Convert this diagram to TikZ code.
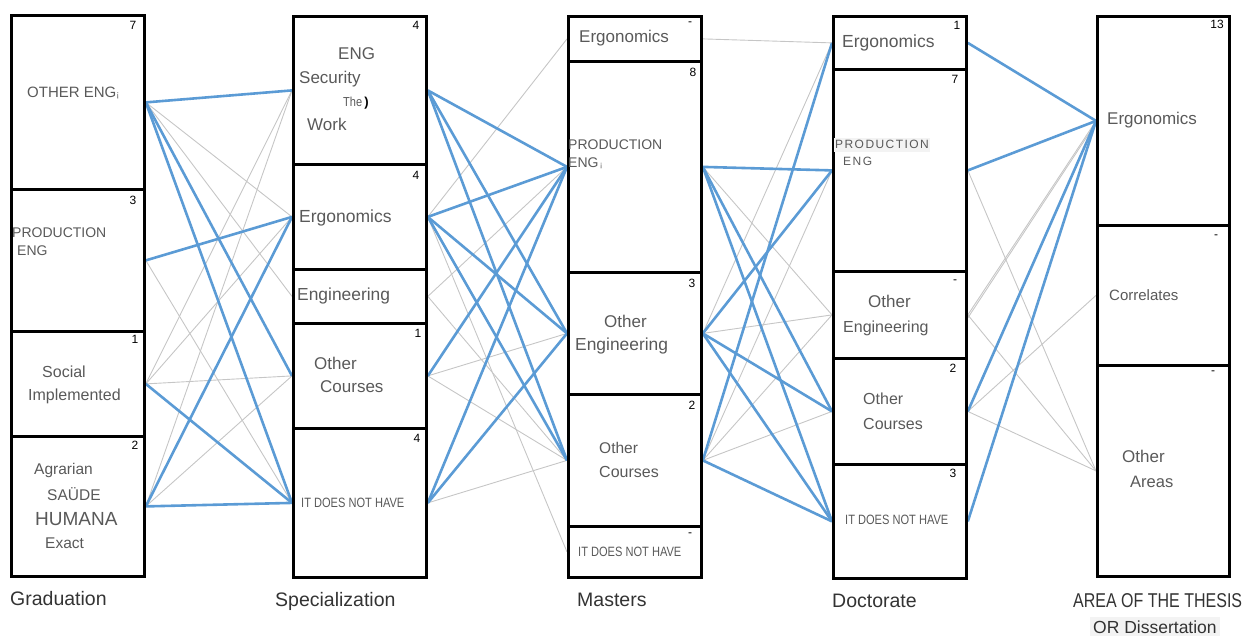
\documentclass[tikz,border=0pt]{standalone}
\usepackage{fontspec}
\setmainfont{Liberation Sans}
\newfontfamily\widefont[LetterSpace=12]{Liberation Sans}
\usetikzlibrary{backgrounds}

\definecolor{boxtext}{RGB}{89,89,89}
\definecolor{labeltext}{RGB}{51,51,51}
\definecolor{linkblue}{RGB}{91,155,213}
\definecolor{linkgray}{RGB}{198,198,198}
\definecolor{softhl}{RGB}{243,243,243}
\newcommand{\fs}[1]{\fontsize{#1}{#1}\selectfont}

\tikzset{
  level/.style={draw=black, line width=2.8pt, inner sep=0pt, anchor=north west, minimum width=133pt},
  txt/.style={anchor=base west, inner sep=0pt, text=boxtext},
  count/.style={anchor=center, inner sep=0pt, font=\fs{12}, text=black},
  caption/.style={anchor=base west, inner sep=0pt, text=labeltext, font=\fs{19.5}},
  strong/.style={draw=linkblue, line width=2.6pt},
  weak/.style={draw=linkgray, line width=0.9pt},
}

\begin{document}
\begin{tikzpicture}[x=1pt, y=-1pt]
\useasboundingbox (0,0) rectangle (1246,636);

% ---------- Graduation ----------
\node[level, minimum height=174pt] (g1) at (10,14) {};
\node[level, minimum height=142pt] (g2) at (10,188) {};
\node[level, minimum height=105pt] (g3) at (10,330) {};
\node[level, minimum height=140pt] (g4) at (10,435) {};
\node[count] (g1n) at (133,25) {7};
\node[count] (g2n) at (133,200) {3};
\node[count] (g3n) at (135,339) {1};
\node[count] (g4n) at (135,445) {2};
\node[txt, font=\fs{15}] (g1t) at (27,97.5) {OTHER ENG{\fs{9}¡}};
\node[txt, font=\fs{14}] (g2t) at (12,237.5) {PRODUCTION};
\node[txt, font=\fs{14}] (g2u) at (17,255) {ENG};
\node[txt, font=\fs{16}] (g3t) at (42,377) {Social};
\node[txt, font=\fs{16}] (g3u) at (28,400) {Implemented};
\node[txt, font=\fs{15.5}] (g4t) at (34,474) {Agrarian};
\node[txt, font=\fs{15.5}] (g4u) at (47,500) {SAÜDE};
\node[txt, font=\fs{19}] (g4v) at (35,525) {HUMANA};
\node[txt, font=\fs{15.5}] (g4w) at (45,548) {Exact};
\node[caption] (gcap) at (10,605) {Graduation};

% ---------- Specialization ----------
\node[level, minimum height=148pt] (s1) at (292,15) {};
\node[level, minimum height=105pt] (s2) at (292,163) {};
\node[level, minimum height=54pt]  (s3) at (292,268) {};
\node[level, minimum height=105pt] (s4) at (292,322) {};
\node[level, minimum height=149pt] (s5) at (292,427) {};
\node[count] (s1n) at (416,25) {4};
\node[count] (s2n) at (416,175) {4};
\node[count] (s4n) at (418,333) {1};
\node[count] (s5n) at (417,438) {4};
\node[txt, font=\fs{17}] (s1t) at (338,60) {ENG};
\node[txt, font=\fs{17}] (s1u) at (299,84) {Security};
\node[txt, font=\fs{13}] (s1v) at (343,107) {\scalebox{0.85}[1]{The}\,{\color{black}\bfseries )}};
\node[txt, font=\fs{17}] (s1w) at (307,130.5) {Work};
\node[txt, font=\fs{17.5}] (s2t) at (299,222.5) {Ergonomics};
\node[txt, font=\fs{17.4}] (s3t) at (297,300.5) {Engineering};
\node[txt, font=\fs{17}] (s4t) at (314,369) {Other};
\node[txt, font=\fs{17}] (s4u) at (320,392) {Courses};
\node[txt, font=\fs{13.5}] (s5t) at (301,507) {\scalebox{0.82}[1]{IT DOES NOT HAVE}};
\node[caption] (scap) at (275,606) {Specialization};

% ---------- Masters ----------
\node[level, minimum height=45pt]  (m1) at (567,15) {};
\node[level, minimum height=211pt] (m2) at (567,60) {};
\node[level, minimum height=122pt] (m3) at (567,271) {};
\node[level, minimum height=132pt] (m4) at (567,393) {};
\node[level, minimum height=51pt]  (m5) at (567,525) {};
\node[count] (m1n) at (690,24) {-};
\node[count] (m2n) at (693,72) {8};
\node[count] (m3n) at (692,283) {3};
\node[count] (m4n) at (692,405) {2};
\node[count] (m5n) at (690,535) {-};
\node[txt, font=\fs{17}] (m1t) at (579,42.5) {Ergonomics};
\node[txt, font=\fs{14}] (m2t) at (568,150) {PRODUCTION};
\node[txt, font=\fs{14}] (m2u) at (568,167.5) {ENG{\fs{8}\,¡}};
\node[txt, font=\fs{17}] (m3t) at (604,327) {Other};
\node[txt, font=\fs{17.4}] (m3u) at (575,350.5) {Engineering};
\node[txt, font=\fs{15.5}] (m4t) at (599,453) {Other};
\node[txt, font=\fs{16}] (m4u) at (599,477.5) {Courses};
\node[txt, font=\fs{13.5}] (m5t) at (578,556) {\scalebox{0.82}[1]{IT DOES NOT HAVE}};
\node[caption] (mcap) at (577,606) {Masters};

% ---------- Doctorate ----------
\node[level, minimum height=53pt]  (d1) at (832,15) {};
\node[level, minimum height=202pt] (d2) at (832,68) {};
\node[level, minimum height=87pt]  (d3) at (832,270) {};
\node[level, minimum height=106pt] (d4) at (832,357) {};
\node[level, minimum height=114pt] (d5) at (832,463) {};
\node[count] (d1n) at (957,25) {1};
\node[count] (d2n) at (955,79) {7};
\node[count] (d3n) at (955,282) {-};
\node[count] (d4n) at (953,368) {2};
\node[count] (d5n) at (953,473) {3};
\node[txt, font=\fs{17.5}] (d1t) at (842,47.5) {Ergonomics};
\node[txt, font=\fs{12}\widefont, fill=softhl, inner xsep=1pt, inner ysep=2.5pt] (d2t) at (834,149) {PRODUCTION};
\node[txt, font=\fs{12}\widefont] (d2u) at (843,166) {ENG};
\node[txt, font=\fs{17}] (d3t) at (868,307) {Other};
\node[txt, font=\fs{16}] (d3u) at (843,332) {Engineering};
\node[txt, font=\fs{16}] (d4t) at (863,404.5) {Other};
\node[txt, font=\fs{16}] (d4u) at (863,429) {Courses};
\node[txt, font=\fs{13.5}] (d5t) at (845,524.5) {\scalebox{0.82}[1]{IT DOES NOT HAVE}};
\node[caption] (dcap) at (832,607) {Doctorate};

% ---------- Area of the thesis ----------
\node[level, minimum height=209pt, minimum width=132pt] (a1) at (1096,15) {};
\node[level, minimum height=140pt, minimum width=132pt] (a2) at (1096,224) {};
\node[level, minimum height=211pt, minimum width=132pt] (a3) at (1096,364) {};
\node[count] (a1n) at (1217,24) {13};
\node[count] (a2n) at (1216,237) {-};
\node[count] (a3n) at (1213,373) {-};
\node[txt, font=\fs{17}] (a1t) at (1107,124.5) {Ergonomics};
\node[txt, font=\fs{15}] (a2t) at (1109,300) {Correlates};
\node[txt, font=\fs{17}] (a3t) at (1122,462) {Other};
\node[txt, font=\fs{16.5}] (a3u) at (1130,487) {Areas};
\node[caption, font=\fs{20}] (acap) at (1073,607) {\scalebox{0.8}[1]{AREA OF THE THESIS}};
\node[caption, font=\fs{17.5}, fill=softhl, inner xsep=3pt, inner ysep=3pt] (acap2) at (1090,633) {OR Dissertation};

% ---------- Links ----------
\begin{scope}[on background layer]
  % thin links
  \foreach \p/\q in {g1/s2, g1/s3, g2/s5, g3/s1, g3/s2, g3/s4, g4/s1, g4/s4,
                     s2/m1, s2/m5, s3/m2, s3/m4, s4/m3, s4/m4, s5/m4,
                     m1/d1, m2/d3, m3/d1, m3/d3, m4/d2, m4/d3, m4/d4,
                     d2/a3, d3/a1, d3/a3, d4/a2, d4/a3}
    \draw[weak] (\p.east) -- (\q.west);
  \draw[weak] ([yshift=-3pt]d3.east) -- ([yshift=-2pt]a1.west);
  % strong links
  \foreach \p/\q in {g1/s1, g1/s4, g1/s5, g2/s2, g3/s5, g4/s2, g4/s5,
                     s1/m2, s1/m3, s1/m4, s2/m2, s2/m3, s2/m4, s4/m2, s5/m2, s5/m3,
                     m2/d2, m2/d4, m2/d5, m3/d2, m3/d4, m3/d5, m4/d1, m4/d5,
                     d1/a1, d2/a1, d4/a1, d5/a1}
    \draw[strong] (\p.east) -- (\q.west);
\end{scope}
\end{tikzpicture}
\end{document}
